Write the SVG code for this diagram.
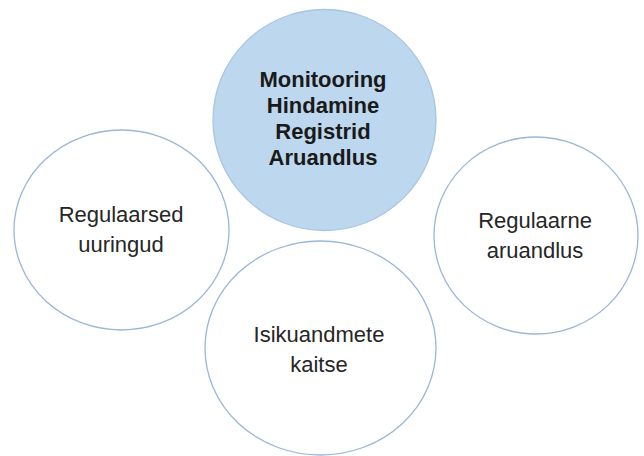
<svg xmlns="http://www.w3.org/2000/svg" width="644" height="456" viewBox="0 0 644 456">
<style>
.c{fill:#ffffff;stroke:#9AB6D8;stroke-width:1.3}
.hub{fill:#BDD7EE;stroke:#A9C5E4;stroke-width:1.3}
.t{font-family:"Liberation Sans",Arial,sans-serif;font-size:22px;fill:#262626;text-anchor:middle}
.b{font-weight:bold;fill:#1a1a1a}
</style>
<rect width="644" height="456" fill="#ffffff"/>
<g id="connectors"></g>
<g id="node-hub">
<ellipse class="hub" cx="324.5" cy="120" rx="111.5" ry="110.5"/>
<text class="t b" x="323" y="87">Monitooring</text>
<text class="t b" x="323" y="113">Hindamine</text>
<text class="t b" x="323" y="139">Registrid</text>
<text class="t b" x="323" y="165">Aruandlus</text>
</g>
<g id="node-left">
<ellipse class="c" cx="121.5" cy="230" rx="107.5" ry="100"/>
<text class="t" x="121" y="222">Regulaarsed</text>
<text class="t" x="121" y="252">uuringud</text>
</g>
<g id="node-right">
<ellipse class="c" cx="536" cy="235.5" rx="102" ry="98.5"/>
<text class="t" x="535" y="228">Regulaarne</text>
<text class="t" x="535" y="258">aruandlus</text>
</g>
<g id="node-bottom">
<ellipse class="c" cx="320.5" cy="348" rx="115.5" ry="107"/>
<text class="t" x="319" y="342">Isikuandmete</text>
<text class="t" x="319" y="372">kaitse</text>
</g>
</svg>
